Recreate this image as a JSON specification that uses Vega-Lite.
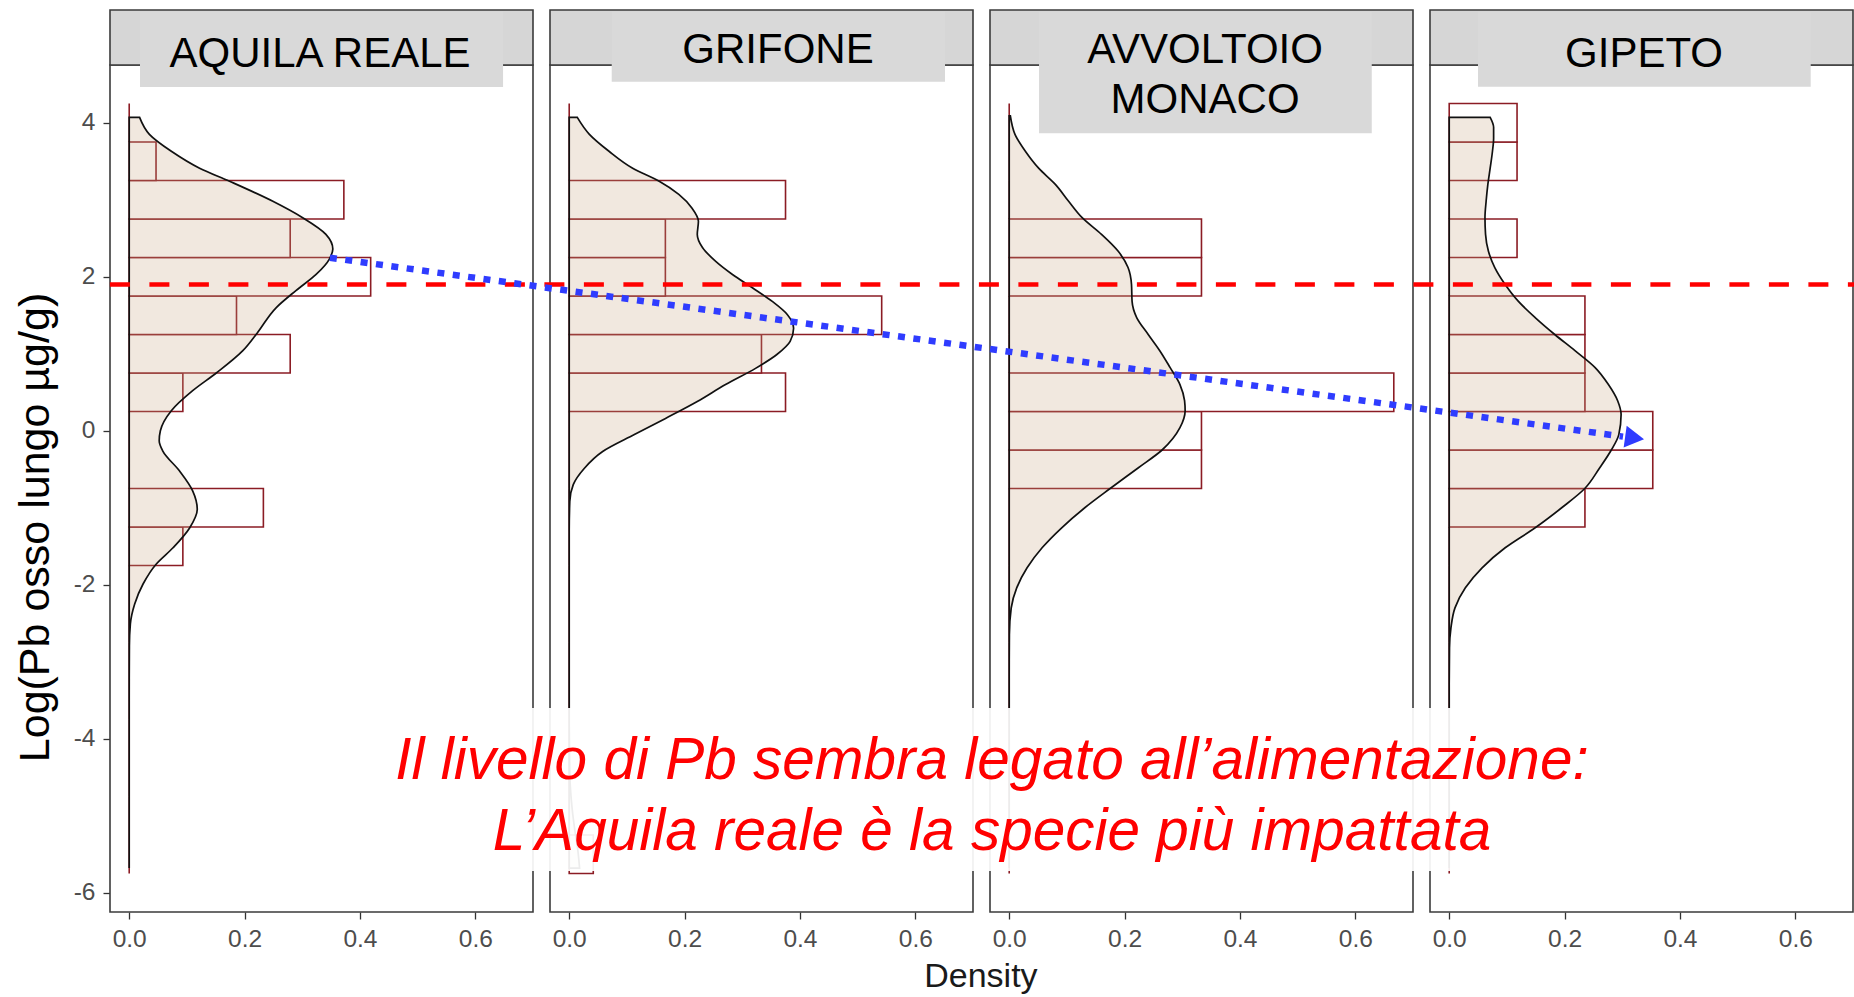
{
"$schema": "https://vega.github.io/schema/vega-lite/v6.json",
"padding": {"top": 8, "left": 14, "right": 0, "bottom": 0},
"background": "white",
"bounds": "flush",
"spacing": 17,
"title": {"text": "Density", "orient": "bottom", "anchor": "middle", "fontSize": 34, "fontWeight": "normal", "color": "#1a1a1a", "font": "Liberation Sans", "offset": 9, "dx": 45},
"data": {"values": [
{"kind":"strip","species":"AQUILA REALE"},{"kind":"strip","species":"GRIFONE"},{"kind":"strip","species":"AVVOLTOIO MONACO"},{"kind":"strip","species":"GIPETO"},

{"kind":"hist","species":"AQUILA REALE","y0":-5.75,"y1":-5.25,"density":0},
{"kind":"hist","species":"AQUILA REALE","y0":-5.25,"y1":-4.75,"density":0},
{"kind":"hist","species":"AQUILA REALE","y0":-4.75,"y1":-4.25,"density":0},
{"kind":"hist","species":"AQUILA REALE","y0":-4.25,"y1":-3.75,"density":0},
{"kind":"hist","species":"AQUILA REALE","y0":-3.75,"y1":-3.25,"density":0},
{"kind":"hist","species":"AQUILA REALE","y0":-3.25,"y1":-2.75,"density":0},
{"kind":"hist","species":"AQUILA REALE","y0":-2.75,"y1":-2.25,"density":0},
{"kind":"hist","species":"AQUILA REALE","y0":-2.25,"y1":-1.75,"density":0},
{"kind":"hist","species":"AQUILA REALE","y0":-1.75,"y1":-1.25,"density":0.0930},
{"kind":"hist","species":"AQUILA REALE","y0":-1.25,"y1":-0.75,"density":0.2326},
{"kind":"hist","species":"AQUILA REALE","y0":-0.75,"y1":-0.25,"density":0},
{"kind":"hist","species":"AQUILA REALE","y0":-0.25,"y1":0.25,"density":0},
{"kind":"hist","species":"AQUILA REALE","y0":0.25,"y1":0.75,"density":0.0930},
{"kind":"hist","species":"AQUILA REALE","y0":0.75,"y1":1.25,"density":0.2791},
{"kind":"hist","species":"AQUILA REALE","y0":1.25,"y1":1.75,"density":0.1860},
{"kind":"hist","species":"AQUILA REALE","y0":1.75,"y1":2.25,"density":0.4186},
{"kind":"hist","species":"AQUILA REALE","y0":2.25,"y1":2.75,"density":0.2791},
{"kind":"hist","species":"AQUILA REALE","y0":2.75,"y1":3.25,"density":0.3721},
{"kind":"hist","species":"AQUILA REALE","y0":3.25,"y1":3.75,"density":0.0465},
{"kind":"hist","species":"AQUILA REALE","y0":3.75,"y1":4.25,"density":0},

{"kind":"hist","species":"GRIFONE","y0":-5.75,"y1":-5.25,"density":0.0417},
{"kind":"hist","species":"GRIFONE","y0":-5.25,"y1":-4.75,"density":0},
{"kind":"hist","species":"GRIFONE","y0":-4.75,"y1":-4.25,"density":0},
{"kind":"hist","species":"GRIFONE","y0":-4.25,"y1":-3.75,"density":0},
{"kind":"hist","species":"GRIFONE","y0":-3.75,"y1":-3.25,"density":0},
{"kind":"hist","species":"GRIFONE","y0":-3.25,"y1":-2.75,"density":0},
{"kind":"hist","species":"GRIFONE","y0":-2.75,"y1":-2.25,"density":0},
{"kind":"hist","species":"GRIFONE","y0":-2.25,"y1":-1.75,"density":0},
{"kind":"hist","species":"GRIFONE","y0":-1.75,"y1":-1.25,"density":0},
{"kind":"hist","species":"GRIFONE","y0":-1.25,"y1":-0.75,"density":0},
{"kind":"hist","species":"GRIFONE","y0":-0.75,"y1":-0.25,"density":0},
{"kind":"hist","species":"GRIFONE","y0":-0.25,"y1":0.25,"density":0},
{"kind":"hist","species":"GRIFONE","y0":0.25,"y1":0.75,"density":0.375},
{"kind":"hist","species":"GRIFONE","y0":0.75,"y1":1.25,"density":0.3333},
{"kind":"hist","species":"GRIFONE","y0":1.25,"y1":1.75,"density":0.5417},
{"kind":"hist","species":"GRIFONE","y0":1.75,"y1":2.25,"density":0.1667},
{"kind":"hist","species":"GRIFONE","y0":2.25,"y1":2.75,"density":0.1667},
{"kind":"hist","species":"GRIFONE","y0":2.75,"y1":3.25,"density":0.375},
{"kind":"hist","species":"GRIFONE","y0":3.25,"y1":3.75,"density":0},
{"kind":"hist","species":"GRIFONE","y0":3.75,"y1":4.25,"density":0},

{"kind":"hist","species":"AVVOLTOIO MONACO","y0":-5.75,"y1":-5.25,"density":0},
{"kind":"hist","species":"AVVOLTOIO MONACO","y0":-5.25,"y1":-4.75,"density":0},
{"kind":"hist","species":"AVVOLTOIO MONACO","y0":-4.75,"y1":-4.25,"density":0},
{"kind":"hist","species":"AVVOLTOIO MONACO","y0":-4.25,"y1":-3.75,"density":0},
{"kind":"hist","species":"AVVOLTOIO MONACO","y0":-3.75,"y1":-3.25,"density":0},
{"kind":"hist","species":"AVVOLTOIO MONACO","y0":-3.25,"y1":-2.75,"density":0},
{"kind":"hist","species":"AVVOLTOIO MONACO","y0":-2.75,"y1":-2.25,"density":0},
{"kind":"hist","species":"AVVOLTOIO MONACO","y0":-2.25,"y1":-1.75,"density":0},
{"kind":"hist","species":"AVVOLTOIO MONACO","y0":-1.75,"y1":-1.25,"density":0},
{"kind":"hist","species":"AVVOLTOIO MONACO","y0":-1.25,"y1":-0.75,"density":0},
{"kind":"hist","species":"AVVOLTOIO MONACO","y0":-0.75,"y1":-0.25,"density":0.3333},
{"kind":"hist","species":"AVVOLTOIO MONACO","y0":-0.25,"y1":0.25,"density":0.3333},
{"kind":"hist","species":"AVVOLTOIO MONACO","y0":0.25,"y1":0.75,"density":0.6667},
{"kind":"hist","species":"AVVOLTOIO MONACO","y0":0.75,"y1":1.25,"density":0},
{"kind":"hist","species":"AVVOLTOIO MONACO","y0":1.25,"y1":1.75,"density":0},
{"kind":"hist","species":"AVVOLTOIO MONACO","y0":1.75,"y1":2.25,"density":0.3333},
{"kind":"hist","species":"AVVOLTOIO MONACO","y0":2.25,"y1":2.75,"density":0.3333},
{"kind":"hist","species":"AVVOLTOIO MONACO","y0":2.75,"y1":3.25,"density":0},
{"kind":"hist","species":"AVVOLTOIO MONACO","y0":3.25,"y1":3.75,"density":0},
{"kind":"hist","species":"AVVOLTOIO MONACO","y0":3.75,"y1":4.25,"density":0},

{"kind":"hist","species":"GIPETO","y0":-5.75,"y1":-5.25,"density":0},
{"kind":"hist","species":"GIPETO","y0":-5.25,"y1":-4.75,"density":0},
{"kind":"hist","species":"GIPETO","y0":-4.75,"y1":-4.25,"density":0},
{"kind":"hist","species":"GIPETO","y0":-4.25,"y1":-3.75,"density":0},
{"kind":"hist","species":"GIPETO","y0":-3.75,"y1":-3.25,"density":0},
{"kind":"hist","species":"GIPETO","y0":-3.25,"y1":-2.75,"density":0},
{"kind":"hist","species":"GIPETO","y0":-2.75,"y1":-2.25,"density":0},
{"kind":"hist","species":"GIPETO","y0":-2.25,"y1":-1.75,"density":0},
{"kind":"hist","species":"GIPETO","y0":-1.75,"y1":-1.25,"density":0},
{"kind":"hist","species":"GIPETO","y0":-1.25,"y1":-0.75,"density":0.2353},
{"kind":"hist","species":"GIPETO","y0":-0.75,"y1":-0.25,"density":0.3529},
{"kind":"hist","species":"GIPETO","y0":-0.25,"y1":0.25,"density":0.3529},
{"kind":"hist","species":"GIPETO","y0":0.25,"y1":0.75,"density":0.2353},
{"kind":"hist","species":"GIPETO","y0":0.75,"y1":1.25,"density":0.2353},
{"kind":"hist","species":"GIPETO","y0":1.25,"y1":1.75,"density":0.2353},
{"kind":"hist","species":"GIPETO","y0":1.75,"y1":2.25,"density":0},
{"kind":"hist","species":"GIPETO","y0":2.25,"y1":2.75,"density":0.1176},
{"kind":"hist","species":"GIPETO","y0":2.75,"y1":3.25,"density":0},
{"kind":"hist","species":"GIPETO","y0":3.25,"y1":3.75,"density":0.1176},
{"kind":"hist","species":"GIPETO","y0":3.75,"y1":4.25,"density":0.1176},

{"kind":"dens","species":"AQUILA REALE","v":4.07,"d":0.018},
{"kind":"dens","species":"AQUILA REALE","v":3.85,"d":0.035},
{"kind":"dens","species":"AQUILA REALE","v":3.63,"d":0.073},
{"kind":"dens","species":"AQUILA REALE","v":3.41,"d":0.122},
{"kind":"dens","species":"AQUILA REALE","v":3.24,"d":0.174},
{"kind":"dens","species":"AQUILA REALE","v":2.98,"d":0.249},
{"kind":"dens","species":"AQUILA REALE","v":2.77,"d":0.300},
{"kind":"dens","species":"AQUILA REALE","v":2.55,"d":0.341},
{"kind":"dens","species":"AQUILA REALE","v":2.36,"d":0.353},
{"kind":"dens","species":"AQUILA REALE","v":2.23,"d":0.347},
{"kind":"dens","species":"AQUILA REALE","v":2.03,"d":0.324},
{"kind":"dens","species":"AQUILA REALE","v":1.82,"d":0.289},
{"kind":"dens","species":"AQUILA REALE","v":1.60,"d":0.255},
{"kind":"dens","species":"AQUILA REALE","v":1.27,"d":0.222},
{"kind":"dens","species":"AQUILA REALE","v":1.04,"d":0.197},
{"kind":"dens","species":"AQUILA REALE","v":0.75,"d":0.151},
{"kind":"dens","species":"AQUILA REALE","v":0.52,"d":0.110},
{"kind":"dens","species":"AQUILA REALE","v":0.26,"d":0.073},
{"kind":"dens","species":"AQUILA REALE","v":0.00,"d":0.054},
{"kind":"dens","species":"AQUILA REALE","v":-0.13,"d":0.052},
{"kind":"dens","species":"AQUILA REALE","v":-0.26,"d":0.058},
{"kind":"dens","species":"AQUILA REALE","v":-0.52,"d":0.087},
{"kind":"dens","species":"AQUILA REALE","v":-0.78,"d":0.110},
{"kind":"dens","species":"AQUILA REALE","v":-1.02,"d":0.118},
{"kind":"dens","species":"AQUILA REALE","v":-1.26,"d":0.105},
{"kind":"dens","species":"AQUILA REALE","v":-1.52,"d":0.076},
{"kind":"dens","species":"AQUILA REALE","v":-1.73,"d":0.047},
{"kind":"dens","species":"AQUILA REALE","v":-1.99,"d":0.024},
{"kind":"dens","species":"AQUILA REALE","v":-2.25,"d":0.0095},
{"kind":"dens","species":"AQUILA REALE","v":-2.51,"d":0.002},
{"kind":"dens","species":"AQUILA REALE","v":-2.8,"d":0.0003},
{"kind":"dens","species":"AQUILA REALE","v":-3.5,"d":0},
{"kind":"dens","species":"AQUILA REALE","v":-5.68,"d":0},

{"kind":"dens","species":"GRIFONE","v":4.07,"d":0.014},
{"kind":"dens","species":"GRIFONE","v":3.85,"d":0.035},
{"kind":"dens","species":"GRIFONE","v":3.63,"d":0.069},
{"kind":"dens","species":"GRIFONE","v":3.41,"d":0.110},
{"kind":"dens","species":"GRIFONE","v":3.24,"d":0.156},
{"kind":"dens","species":"GRIFONE","v":3.07,"d":0.190},
{"kind":"dens","species":"GRIFONE","v":2.89,"d":0.213},
{"kind":"dens","species":"GRIFONE","v":2.72,"d":0.224},
{"kind":"dens","species":"GRIFONE","v":2.55,"d":0.222},
{"kind":"dens","species":"GRIFONE","v":2.38,"d":0.231},
{"kind":"dens","species":"GRIFONE","v":2.20,"d":0.254},
{"kind":"dens","species":"GRIFONE","v":2.03,"d":0.283},
{"kind":"dens","species":"GRIFONE","v":1.86,"d":0.317},
{"kind":"dens","species":"GRIFONE","v":1.68,"d":0.352},
{"kind":"dens","species":"GRIFONE","v":1.51,"d":0.378},
{"kind":"dens","species":"GRIFONE","v":1.33,"d":0.389},
{"kind":"dens","species":"GRIFONE","v":1.16,"d":0.383},
{"kind":"dens","species":"GRIFONE","v":0.99,"d":0.360},
{"kind":"dens","species":"GRIFONE","v":0.81,"d":0.323},
{"kind":"dens","species":"GRIFONE","v":0.60,"d":0.271},
{"kind":"dens","species":"GRIFONE","v":0.38,"d":0.222},
{"kind":"dens","species":"GRIFONE","v":0.16,"d":0.167},
{"kind":"dens","species":"GRIFONE","v":-0.05,"d":0.113},
{"kind":"dens","species":"GRIFONE","v":-0.27,"d":0.058},
{"kind":"dens","species":"GRIFONE","v":-0.49,"d":0.026},
{"kind":"dens","species":"GRIFONE","v":-0.70,"d":0.007},
{"kind":"dens","species":"GRIFONE","v":-0.92,"d":0.001},
{"kind":"dens","species":"GRIFONE","v":-1.3,"d":0},
{"kind":"dens","species":"GRIFONE","v":-3.8,"d":0},
{"kind":"dens","species":"GRIFONE","v":-4.3,"d":0.0006},
{"kind":"dens","species":"GRIFONE","v":-4.6,"d":0.0018},
{"kind":"dens","species":"GRIFONE","v":-4.9,"d":0.005},
{"kind":"dens","species":"GRIFONE","v":-5.2,"d":0.010},
{"kind":"dens","species":"GRIFONE","v":-5.45,"d":0.015},
{"kind":"dens","species":"GRIFONE","v":-5.68,"d":0.018},

{"kind":"dens","species":"AVVOLTOIO MONACO","v":4.09,"d":0.002},
{"kind":"dens","species":"AVVOLTOIO MONACO","v":3.85,"d":0.010},
{"kind":"dens","species":"AVVOLTOIO MONACO","v":3.63,"d":0.028},
{"kind":"dens","species":"AVVOLTOIO MONACO","v":3.41,"d":0.051},
{"kind":"dens","species":"AVVOLTOIO MONACO","v":3.20,"d":0.080},
{"kind":"dens","species":"AVVOLTOIO MONACO","v":2.98,"d":0.103},
{"kind":"dens","species":"AVVOLTOIO MONACO","v":2.77,"d":0.126},
{"kind":"dens","species":"AVVOLTOIO MONACO","v":2.55,"d":0.160},
{"kind":"dens","species":"AVVOLTOIO MONACO","v":2.33,"d":0.189},
{"kind":"dens","species":"AVVOLTOIO MONACO","v":2.12,"d":0.206},
{"kind":"dens","species":"AVVOLTOIO MONACO","v":1.90,"d":0.212},
{"kind":"dens","species":"AVVOLTOIO MONACO","v":1.68,"d":0.213},
{"kind":"dens","species":"AVVOLTOIO MONACO","v":1.47,"d":0.221},
{"kind":"dens","species":"AVVOLTOIO MONACO","v":1.25,"d":0.241},
{"kind":"dens","species":"AVVOLTOIO MONACO","v":1.04,"d":0.261},
{"kind":"dens","species":"AVVOLTOIO MONACO","v":0.82,"d":0.279},
{"kind":"dens","species":"AVVOLTOIO MONACO","v":0.60,"d":0.296},
{"kind":"dens","species":"AVVOLTOIO MONACO","v":0.39,"d":0.304},
{"kind":"dens","species":"AVVOLTOIO MONACO","v":0.26,"d":0.305},
{"kind":"dens","species":"AVVOLTOIO MONACO","v":0.04,"d":0.296},
{"kind":"dens","species":"AVVOLTOIO MONACO","v":-0.25,"d":0.265},
{"kind":"dens","species":"AVVOLTOIO MONACO","v":-0.48,"d":0.224},
{"kind":"dens","species":"AVVOLTOIO MONACO","v":-0.75,"d":0.175},
{"kind":"dens","species":"AVVOLTOIO MONACO","v":-1.00,"d":0.131},
{"kind":"dens","species":"AVVOLTOIO MONACO","v":-1.26,"d":0.091},
{"kind":"dens","species":"AVVOLTOIO MONACO","v":-1.52,"d":0.057},
{"kind":"dens","species":"AVVOLTOIO MONACO","v":-1.78,"d":0.031},
{"kind":"dens","species":"AVVOLTOIO MONACO","v":-2.04,"d":0.013},
{"kind":"dens","species":"AVVOLTOIO MONACO","v":-2.30,"d":0.0035},
{"kind":"dens","species":"AVVOLTOIO MONACO","v":-2.65,"d":0.0003},
{"kind":"dens","species":"AVVOLTOIO MONACO","v":-3.2,"d":0},
{"kind":"dens","species":"AVVOLTOIO MONACO","v":-5.68,"d":0},

{"kind":"dens","species":"GIPETO","v":4.07,"d":0.071},
{"kind":"dens","species":"GIPETO","v":3.94,"d":0.077},
{"kind":"dens","species":"GIPETO","v":3.80,"d":0.077},
{"kind":"dens","species":"GIPETO","v":3.63,"d":0.075},
{"kind":"dens","species":"GIPETO","v":3.41,"d":0.071},
{"kind":"dens","species":"GIPETO","v":3.20,"d":0.067},
{"kind":"dens","species":"GIPETO","v":2.98,"d":0.064},
{"kind":"dens","species":"GIPETO","v":2.77,"d":0.062},
{"kind":"dens","species":"GIPETO","v":2.55,"d":0.063},
{"kind":"dens","species":"GIPETO","v":2.33,"d":0.068},
{"kind":"dens","species":"GIPETO","v":2.12,"d":0.079},
{"kind":"dens","species":"GIPETO","v":1.90,"d":0.097},
{"kind":"dens","species":"GIPETO","v":1.68,"d":0.120},
{"kind":"dens","species":"GIPETO","v":1.47,"d":0.149},
{"kind":"dens","species":"GIPETO","v":1.25,"d":0.183},
{"kind":"dens","species":"GIPETO","v":1.04,"d":0.218},
{"kind":"dens","species":"GIPETO","v":0.82,"d":0.253},
{"kind":"dens","species":"GIPETO","v":0.60,"d":0.276},
{"kind":"dens","species":"GIPETO","v":0.39,"d":0.292},
{"kind":"dens","species":"GIPETO","v":0.21,"d":0.298},
{"kind":"dens","species":"GIPETO","v":-0.05,"d":0.294},
{"kind":"dens","species":"GIPETO","v":-0.25,"d":0.281},
{"kind":"dens","species":"GIPETO","v":-0.48,"d":0.261},
{"kind":"dens","species":"GIPETO","v":-0.75,"d":0.235},
{"kind":"dens","species":"GIPETO","v":-1.00,"d":0.195},
{"kind":"dens","species":"GIPETO","v":-1.26,"d":0.149},
{"kind":"dens","species":"GIPETO","v":-1.52,"d":0.097},
{"kind":"dens","species":"GIPETO","v":-1.78,"d":0.057},
{"kind":"dens","species":"GIPETO","v":-2.04,"d":0.028},
{"kind":"dens","species":"GIPETO","v":-2.30,"d":0.010},
{"kind":"dens","species":"GIPETO","v":-2.56,"d":0.003},
{"kind":"dens","species":"GIPETO","v":-2.82,"d":0.0005},
{"kind":"dens","species":"GIPETO","v":-3.3,"d":0},
{"kind":"dens","species":"GIPETO","v":-5.68,"d":0},

{"kind":"labbox","species":"AQUILA REALE","bx0":0.0187,"bx1":0.6481,"by0":4.464},
{"kind":"labbox","species":"GRIFONE","bx0":0.0737,"bx1":0.6515,"by0":4.533},
{"kind":"labbox","species":"AVVOLTOIO MONACO","bx0":0.0517,"bx1":0.6285,"by0":3.863},
{"kind":"labbox","species":"GIPETO","bx0":0.0499,"bx1":0.6267,"by0":4.468},

{"kind":"labtext","species":"AQUILA REALE","text":"AQUILA REALE","tx":0.3308,"ty":4.724},
{"kind":"labtext","species":"GRIFONE","text":"GRIFONE","tx":0.362,"ty":4.78},
{"kind":"labtext","species":"AVVOLTOIO MONACO","text":"AVVOLTOIO","tx":0.3395,"ty":4.78},
{"kind":"labtext","species":"AVVOLTOIO MONACO","text":"MONACO","tx":0.3395,"ty":4.13},
{"kind":"labtext","species":"GIPETO","text":"GIPETO","tx":0.3377,"ty":4.724},

{"kind":"thresh","species":"GIPETO","value":1.9},
{"kind":"arrow","species":"GIPETO","ax0":-1.9404,"ay0":2.247,"ax1":0.3013,"ay1":-0.076},
{"kind":"arrowhead","species":"GIPETO","hx":0.3214,"hy":-0.094},
{"kind":"notebox","species":"GIPETO"},
{"kind":"notetext","species":"GIPETO","text":"Il livello di Pb sembra legato all’alimentazione:","tx":-0.7926,"ty":-4.523},
{"kind":"notetext","species":"GIPETO","text":"L’Aquila reale è la specie più impattata","tx":-0.7926,"ty":-5.445}
]},
"facet": {"column": {"field": "species", "type": "nominal", "sort": ["AQUILA REALE", "GRIFONE", "AVVOLTOIO MONACO", "GIPETO"], "header": {"labels": false, "title": null, "labelPadding": 0, "titlePadding": 0}}},
"spec": {
  "width": 423,
  "height": 847,
  "layer": [
    {
      "transform": [{"filter": "datum.kind == 'strip'"}],
      "mark": {"type": "rect", "fill": "#d6d6d6", "stroke": "#3b3b3b", "strokeWidth": 1.6},
      "encoding": {
        "x": {"datum": -0.0333, "type": "quantitative", "scale": {"domain": [-0.0333, 0.7], "nice": false, "zero": false},
          "axis": {"title": null, "values": [0, 0.1, 0.2, 0.3, 0.4, 0.5, 0.6],
            "labelExpr": "round(datum.value*10) % 2 == 0 ? format(datum.value, '.1f') : ''",
            "tickOpacity": {"condition": {"test": "round(datum.value*10) % 2 == 0", "value": 1}, "value": 0},
            "gridWidth": {"condition": {"test": "round(datum.value*10) % 2 == 0", "value": 1.3}, "value": 0.7}}},
        "x2": {"datum": 0.7},
        "y": {"datum": 4.75, "type": "quantitative", "scale": {"domain": [-6.25, 4.75], "nice": false, "zero": false},
          "axis": {"title": "Log(Pb osso lungo µg/g)", "titleFontSize": 43, "titlePadding": 15.5, "titleY": 462,
            "values": [-6, -5, -4, -3, -2, -1, 0, 1, 2, 3, 4],
            "labelExpr": "datum.value % 2 == 0 ? '' + datum.value : ''",
            "tickOpacity": {"condition": {"test": "datum.value % 2 == 0", "value": 1}, "value": 0},
            "gridWidth": {"condition": {"test": "datum.value % 2 == 0", "value": 1.3}, "value": 0.7}}},
        "y2": {"datum": 5.464}
      }
    },
    {
      "transform": [{"filter": "datum.kind == 'hist'"}],
      "mark": {"type": "rect", "fill": "white", "stroke": "#8b1c24", "strokeWidth": 1.6},
      "encoding": {
        "x": {"field": "density", "type": "quantitative"},
        "x2": {"datum": 0},
        "y": {"field": "y0", "type": "quantitative"},
        "y2": {"field": "y1"}
      }
    },
    {
      "transform": [{"filter": "datum.kind == 'dens'"}],
      "mark": {"type": "area", "orient": "horizontal", "interpolate": "monotone", "fill": "#c9a27e", "fillOpacity": 0.25, "stroke": "#111111", "strokeWidth": 1.7},
      "encoding": {
        "x": {"field": "d", "type": "quantitative"},
        "y": {"field": "v", "type": "quantitative"}
      }
    },
    {
      "transform": [{"filter": "datum.kind == 'labbox'"}],
      "mark": {"type": "rect", "fill": "#d9d9d9"},
      "encoding": {
        "x": {"field": "bx0", "type": "quantitative"},
        "x2": {"field": "bx1"},
        "y": {"field": "by0", "type": "quantitative"},
        "y2": {"datum": 5.44}
      }
    },
    {
      "transform": [{"filter": "datum.kind == 'labtext'"}],
      "mark": {"type": "text", "font": "Liberation Sans", "fontSize": 42, "color": "#000000", "align": "center", "baseline": "alphabetic"},
      "encoding": {
        "x": {"field": "tx", "type": "quantitative"},
        "y": {"field": "ty", "type": "quantitative"},
        "text": {"field": "text"}
      }
    },
    {
      "transform": [{"filter": "datum.kind == 'thresh'"}],
      "mark": {"type": "rule", "color": "#ff0000", "strokeWidth": 4.5, "strokeDash": [20, 19.5]},
      "encoding": {
        "x": {"datum": -2.3218, "type": "quantitative"},
        "x2": {"datum": 0.7018},
        "y": {"field": "value", "type": "quantitative"}
      }
    },
    {
      "transform": [{"filter": "datum.kind == 'arrow'"}],
      "mark": {"type": "rule", "color": "#2f3cff", "strokeWidth": 6.5, "strokeDash": [7, 8.5]},
      "encoding": {
        "x": {"field": "ax0", "type": "quantitative"},
        "y": {"field": "ay0", "type": "quantitative"},
        "x2": {"field": "ax1"},
        "y2": {"field": "ay1"}
      }
    },
    {
      "transform": [{"filter": "datum.kind == 'arrowhead'"}],
      "mark": {"type": "point", "shape": "triangle-right", "angle": 7.9, "size": 484, "filled": true, "fill": "#2f3cff", "opacity": 1, "strokeWidth": 0},
      "encoding": {
        "x": {"field": "hx", "type": "quantitative"},
        "y": {"field": "hy", "type": "quantitative"}
      }
    },
    {
      "transform": [{"filter": "datum.kind == 'notebox'"}],
      "mark": {"type": "rect", "fill": "white", "opacity": 0.92},
      "encoding": {
        "x": {"datum": -1.897, "type": "quantitative"},
        "x2": {"datum": 0.2944},
        "y": {"datum": -3.6006, "type": "quantitative"},
        "y2": {"datum": -5.7177}
      }
    },
    {
      "transform": [{"filter": "datum.kind == 'notetext'"}],
      "mark": {"type": "text", "font": "Liberation Sans", "fontSize": 58.5, "fontStyle": "italic", "color": "#ff0000", "align": "center", "baseline": "alphabetic"},
      "encoding": {
        "x": {"field": "tx", "type": "quantitative"},
        "y": {"field": "ty", "type": "quantitative"},
        "text": {"field": "text"}
      }
    }
  ]
},
"config": {
  "font": "Liberation Sans",
  "view": {"stroke": "#3b3b3b", "strokeWidth": 1.6, "fill": "white"},
  "axis": {"domain": false, "gridColor": "#ebebeb", "tickColor": "#333333", "tickWidth": 1.3, "tickSize": 7, "labelColor": "#4d4d4d", "labelFont": "Liberation Sans", "labelFontSize": 24.5, "labelPadding": 8, "titleFont": "Liberation Sans", "titleFontWeight": "normal", "titleColor": "#000000"}
}
}
